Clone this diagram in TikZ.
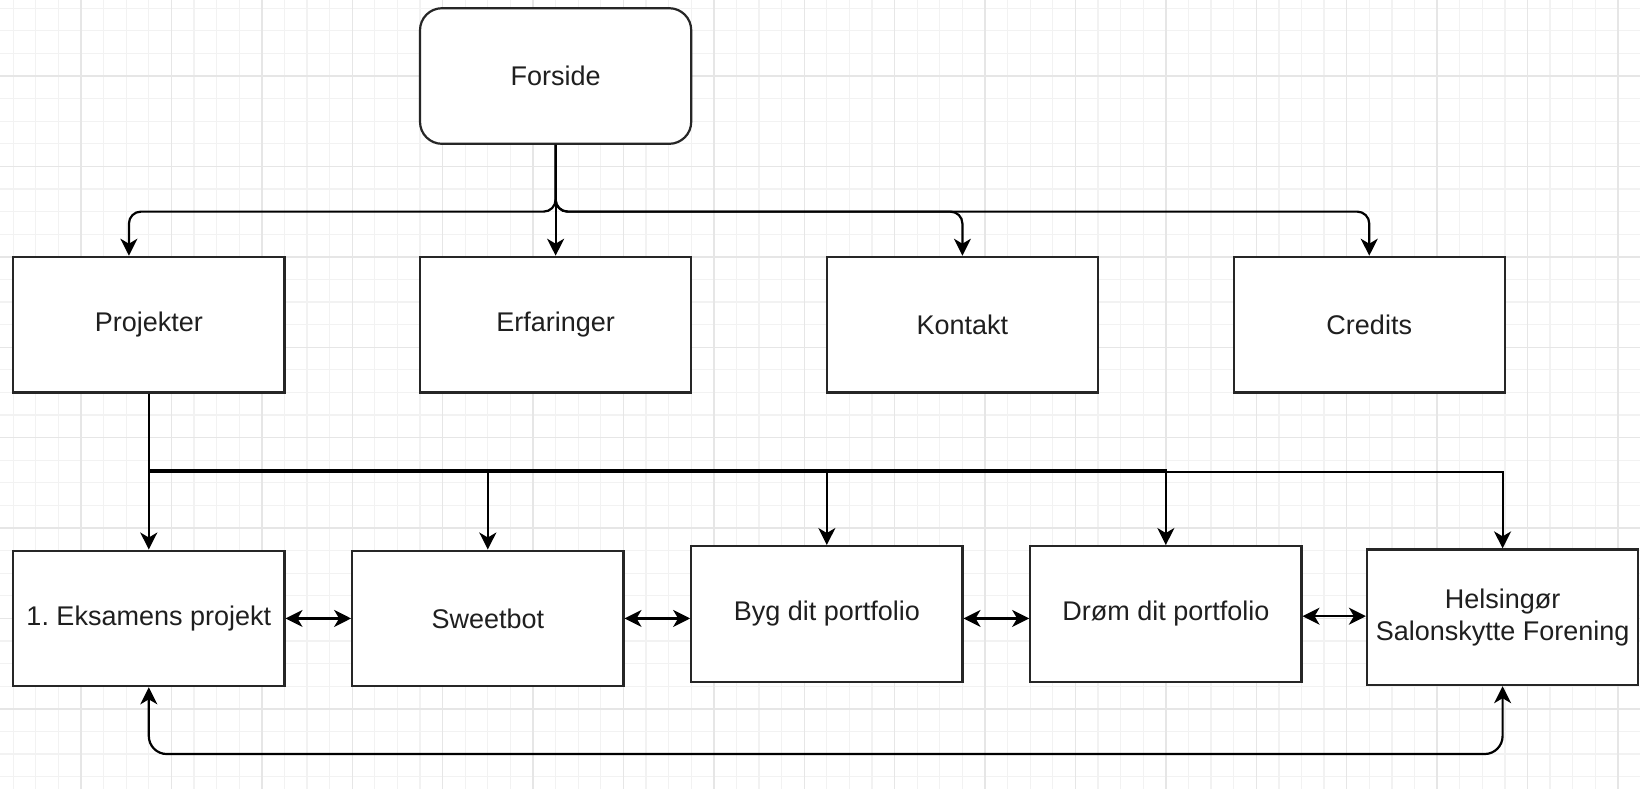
\documentclass[tikz,border=0pt]{standalone}
\usepackage{fontspec}
\setmainfont{Liberation Sans}
\usetikzlibrary{arrows.meta,calc}
\definecolor{gridminor}{HTML}{F2F2F2}
\definecolor{gridmajor}{HTML}{E6E6E6}
\begin{document}
\begin{tikzpicture}[x=22.6pt,y=-22.6pt,
  box/.style={draw=black!85, line width=2.2pt, fill=white, minimum width=271.2pt, minimum height=135.6pt, inner sep=0pt, align=center, font=\fontsize{27}{32}\selectfont, text=black!88},
  tip/.tip={Stealth[length=17pt,width=17pt,inset=5pt]},
  conn/.style={draw=black, line width=2.2pt, -tip},
  dconn/.style={draw=black, line width=2.2pt, tip-tip}]
\useasboundingbox (-3.584,-3.363) rectangle (68.98,31.55);
\fill[white] (-3.584,-3.363) rectangle (68.98,31.55);
\foreach \i in {-3,...,68} \draw[gridminor, line width=1.3pt] (\i,-3.363) -- (\i,31.55);
\foreach \j in {-3,...,31} \draw[gridminor, line width=1.3pt] (-3.584,\j) -- (68.98,\j);
\foreach \i in {0,4,...,68} \draw[gridmajor, line width=1.4pt] (\i,-3.363) -- (\i,31.55);
\foreach \j in {-4,0,4,...,28} \draw[gridmajor, line width=1.4pt] (-3.584,\j) -- (68.98,\j);

\node[box, rounded corners=22pt] (fors) at (21,0) {Forside};
\node[box] (proj) at (3,11) {Projekter};
\node[box] (erf) at (21,11) {Erfaringer};
\node[box] (kon) at (39,11) {Kontakt};
\node[box] (cred) at (57,11) {Credits};
\node[box] (eks) at (3,24) {1.\ Eksamens projekt};
\node[box] (sweet) at (18,24) {Sweetbot};
\node[box] (byg) at (33,23.8) {Byg dit portfolio};
\node[box] (drom) at (48,23.8) {Drøm dit portfolio};
\node[box] (hel) at (62.9,23.95) {Helsingør\\Salonskytte Forening};

\coordinate (r24) at (0,24);
\coordinate (r239) at (0,23.9);

\draw[conn, rounded corners=12pt] (fors.south) -- (21,6) -- (2.12,6) -- ($(proj.north)+(-0.88,0)$);
\draw[conn] (fors.south) -- (erf.north);
\draw[conn, rounded corners=12pt] (fors.south) -- (21,6) -- (39,6) -- (kon.north);
\draw[conn, rounded corners=12pt] (fors.south) -- (21,6) -- (57,6) -- (cred.north);

\draw[conn] (proj.south) -- (eks.north);
\draw[conn] (proj.south) -- (3,17.45) -- (18,17.45) -- (sweet.north);
\draw[conn] (proj.south) -- (3,17.45) -- (33,17.45) -- (byg.north);
\draw[conn] (proj.south) -- (3,17.45) -- (48,17.45) -- (drom.north);
\draw[conn] (proj.south) -- (3,17.52) -- (62.9,17.52) -- (hel.north);

\draw[dconn, rounded corners=18pt] (eks.south) -- (3,30) -- (62.9,30) -- (hel.south);

\draw[dconn] (eks.east) -- (sweet.west);
\draw[dconn] (sweet.east) -- (sweet.east -| byg.west);
\draw[dconn] (byg.east |- r24) -- (drom.west |- r24);
\draw[dconn] (drom.east |- r239) -- (hel.west |- r239);
\end{tikzpicture}
\end{document}
